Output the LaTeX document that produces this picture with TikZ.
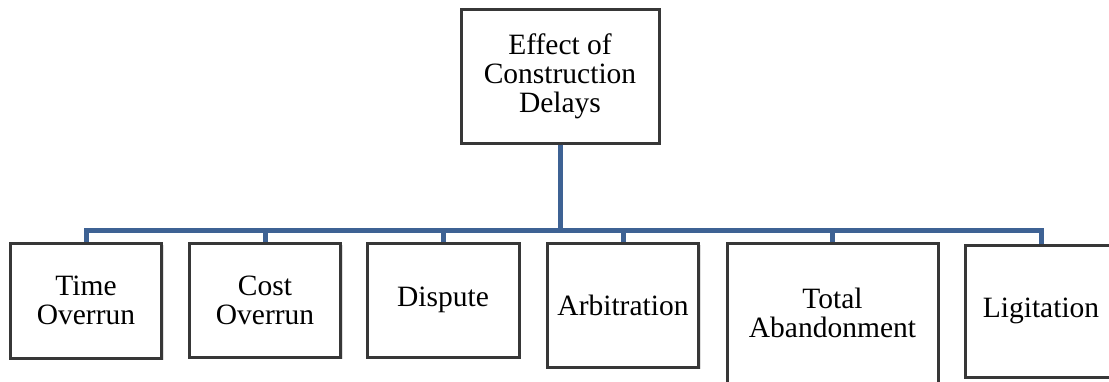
\documentclass[tikz,border=0pt]{standalone}
\usepackage{fontspec}
\setmainfont{Liberation Serif}
\usetikzlibrary{shadows}
\definecolor{connblue}{RGB}{62,98,148}
\definecolor{boxline}{RGB}{55,55,55}
\begin{document}
\begin{tikzpicture}[x=1pt,y=-1pt,
  box/.style={draw=boxline, line width=3pt, fill=white, rectangle, inner sep=0pt, align=center,
    font=\fontsize{29.5}{29}\selectfont,
    drop shadow={opacity=0.25, shadow xshift=2pt, shadow yshift=-2pt}},
  conn/.style={draw=connblue, line width=5pt, line join=miter}]
\useasboundingbox (0,0) rectangle (1109,381);
\fill[white] (0,0) rectangle (1109,381);
\coordinate (bar) at (0,230);
\node[box, minimum width=198pt, minimum height=134pt] (root) at (560,76) {Effect of\\Construction\\Delays};
\node[box, minimum width=151pt, minimum height=115pt] (t1) at (86,300.5) {Time\\Overrun};
\node[box, minimum width=151pt, minimum height=114pt] (t2) at (265,300) {Cost\\Overrun};
\node[box, minimum width=152pt, minimum height=114pt] (t3) at (443,300) {Dispute};
\node[box, minimum width=151pt, minimum height=124pt] (t4) at (623,305) {Arbitration};
\node[box, minimum width=211pt, minimum height=140pt] (t5) at (832.5,313) {Total\\Abandonment};
\node[box, minimum width=152pt, minimum height=132pt] (t6) at (1041,311) {Ligitation};
\foreach \c in {t1,t2,t3,t4,t5,t6}
  \draw[conn] (root.south) -- (root.south |- bar) -| (\c.north);
\end{tikzpicture}
\end{document}
